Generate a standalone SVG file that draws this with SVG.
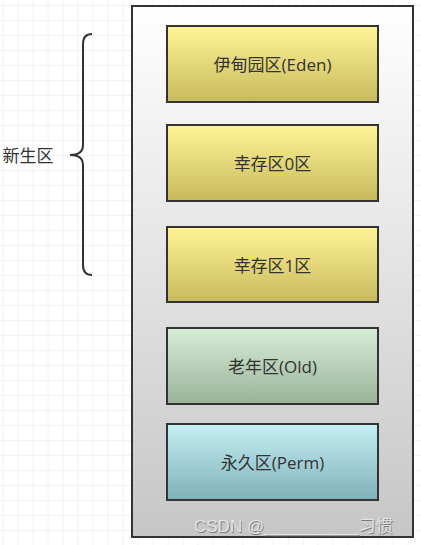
<svg xmlns="http://www.w3.org/2000/svg" width="421" height="545" viewBox="0 0 421 545">
<defs>
<pattern id="grid" x="2.7" y="5" width="15" height="15" patternUnits="userSpaceOnUse">
<path d="M0 0H15M0 0V15" fill="none" stroke="#e6e6e6" stroke-width="1"/>
</pattern>
<linearGradient id="gMain" x1="0" y1="0" x2="0" y2="1">
<stop offset="0" stop-color="#ffffff"/>
<stop offset="1" stop-color="#c6c6c6"/>
</linearGradient>
<linearGradient id="gY" x1="0" y1="0" x2="0" y2="1">
<stop offset="0" stop-color="#fff496"/>
<stop offset="1" stop-color="#c8ba5c"/>
</linearGradient>
<linearGradient id="gG" x1="0" y1="0" x2="0" y2="1">
<stop offset="0" stop-color="#d6eed6"/>
<stop offset="1" stop-color="#98b298"/>
</linearGradient>
<linearGradient id="gB" x1="0" y1="0" x2="0" y2="1">
<stop offset="0" stop-color="#c6f0f5"/>
<stop offset="1" stop-color="#7fb0b8"/>
</linearGradient>
</defs>
<style>
.box{stroke:#333333;stroke-width:2}
.lbl{font-family:"Open Sans","Noto Sans CJK SC",sans-serif;font-size:17px;fill:#333333;text-anchor:middle;dominant-baseline:central}
.wm{font-family:"Liberation Sans","Noto Sans CJK SC",sans-serif;font-size:17px}
</style>
<rect width="421" height="545" fill="#ffffff"/>
<rect width="421" height="545" fill="url(#grid)"/>
<g id="heap">
<rect x="132" y="6" width="281" height="531" fill="url(#gMain)" class="box"/>
</g>
<g id="eden">
<rect x="167" y="26" width="211" height="76" fill="url(#gY)" class="box"/>
<text x="272.5" y="64" class="lbl">伊甸园区(Eden)</text>
</g>
<g id="s0">
<rect x="167" y="125" width="211" height="76" fill="url(#gY)" class="box"/>
<text x="272.5" y="163" class="lbl">幸存区0区</text>
</g>
<g id="s1">
<rect x="167" y="227" width="211" height="75" fill="url(#gY)" class="box"/>
<text x="272.5" y="265" class="lbl">幸存区1区</text>
</g>
<g id="old">
<rect x="167" y="328" width="211" height="76" fill="url(#gG)" class="box"/>
<text x="272.5" y="366" class="lbl">老年区(Old)</text>
</g>
<g id="perm">
<rect x="167" y="424" width="211" height="76" fill="url(#gB)" class="box"/>
<text x="272.5" y="462" class="lbl">永久区(Perm)</text>
</g>
<g id="young">
<path d="M92 34 Q83 34 83 44 V145 Q83 155 70 155 Q83 155 83 165 V265 Q83 275 92 275" fill="none" stroke="#333333" stroke-width="2"/>
<text x="28" y="155" class="lbl">新生区</text>
</g>
<g id="watermark">
<text x="194.8" y="532.8" class="wm" fill="#7a7a7a">CSDN @__________习惯</text>
<text x="194" y="532" class="wm" fill="#e4e4e4">CSDN @__________习惯</text>
</g>
</svg>
